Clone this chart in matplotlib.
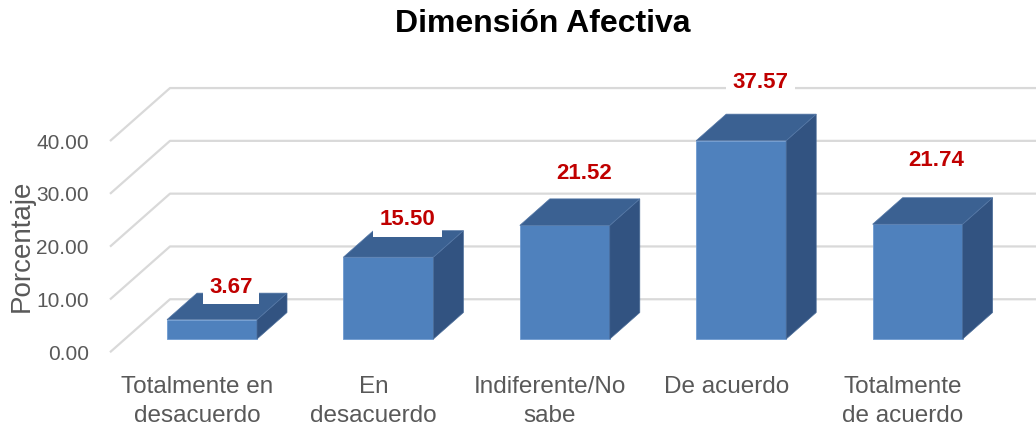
import matplotlib
matplotlib.use("Agg")
import matplotlib.pyplot as plt
from matplotlib.patches import Polygon
from matplotlib import font_manager

# ---------------- data ----------------
categories = ["Totalmente en\ndesacuerdo", "En\ndesacuerdo", "Indiferente/No\nsabe",
              "De acuerdo", "Totalmente\nde acuerdo"]
values = [3.67, 15.50, 21.52, 37.57, 21.74]
y_ticks = [0, 10, 20, 30, 40]
title = "Dimensión Afectiva"
y_label = "Porcentaje"

# ---------------- style ----------------
avail = {f.name for f in font_manager.fontManager.ttflist}
base = "Liberation Sans" if "Liberation Sans" in avail else "DejaVu Sans"

front_c = "#4F81BD"
top_c = "#3B6192"
side_c = "#325381"
grid_c = "#D9D9D9"
text_c = "#595959"
label_c = "#C00000"
label_lift_px = [8, 13, 27, 34, 39]

W, H = 1036, 433
DPI = 100
fig = plt.figure(figsize=(W / DPI, H / DPI), dpi=DPI)
ax = fig.add_axes([0, 0, 1, 1])
ax.set_axis_off()

# scale: pixels per category unit / per value unit
px_x = 176.4
px_y = 5.28
x0_px = 212.0   # first bar centre (from left)
base_px = 94.0  # baseline (from bottom)
ax.set_xlim(-x0_px / px_x, (W - x0_px) / px_x)
ax.set_ylim(-base_px / px_y, (H - base_px) / px_y)

# oblique depth vector (in data units)
ddx = 30.0 / px_x
ddy = 26.5 / px_y
bar_w = 90.0 / px_x
x_left = -87.0 / px_x
x_right = ax.get_xlim()[1]

# ---- back wall gridlines ----
for v in y_ticks:
    xs = [x_left - 0.5 * ddx, x_left + 1.5 * ddx, x_right]
    ys = [v - 0.5 * ddy, v + 1.5 * ddy, v + 1.5 * ddy]
    ax.plot(xs, ys, color=grid_c, lw=1.6, solid_capstyle="butt", zorder=1, clip_on=False)
    ax.text(x_left - 0.5 * ddx - 21.0 / px_x, v - 0.5 * ddy - 2.0 / px_y, f"{v:.2f}",
            ha="right", va="center", fontsize=15, color=text_c, family=base)

# ---- 3D bars ----
xs = list(range(len(values)))
ax.bar(xs, values, width=bar_w, color=front_c, edgecolor="#6F9AD0", linewidth=0.6, zorder=3)
for i, v in zip(xs, values):
    xa, xb = i - bar_w / 2, i + bar_w / 2
    top = Polygon([(xa, v), (xb, v), (xb + ddx, v + ddy), (xa + ddx, v + ddy)],
                  closed=True, facecolor=top_c, edgecolor="#5477A6", lw=0.5, zorder=3)
    side = Polygon([(xb, 0), (xb, v), (xb + ddx, v + ddy), (xb + ddx, ddy)],
                   closed=True, facecolor=side_c, edgecolor="#4A6C98", lw=0.5, zorder=3)
    ax.add_patch(side)
    ax.add_patch(top)

# ---- data labels ----
for i, v, lift in zip(xs, values, label_lift_px):
    ax.text(i + 0.5 * ddx + 4.0 / px_x, v + ddy + (lift - 2) / px_y, f"{v:.2f}",
            ha="center", va="center", fontsize=16, fontweight="bold", color=label_c,
            family=base, zorder=5,
            bbox=dict(boxstyle="square,pad=0.3", facecolor="white", edgecolor="none"))

# ---- category labels ----
for i, c in zip(xs, categories):
    ax.text(i - 0.5 * ddx, -7.1, c, ha="center", va="top", fontsize=17.5,
            color=text_c, family=base, linespacing=1.36, multialignment="center")

# ---- axis title & chart title ----
ax.text((22 - x0_px) / px_x, (H - 246 - base_px) / px_y, y_label, rotation=90,
        ha="center", va="center", fontsize=20, color=text_c, family=base)
fig.text(543 / W, 1 - 24 / H, title, ha="center", va="center", fontsize=23,
         fontweight="bold", color="black", family=base)

fig.savefig("out.png", dpi=DPI)
